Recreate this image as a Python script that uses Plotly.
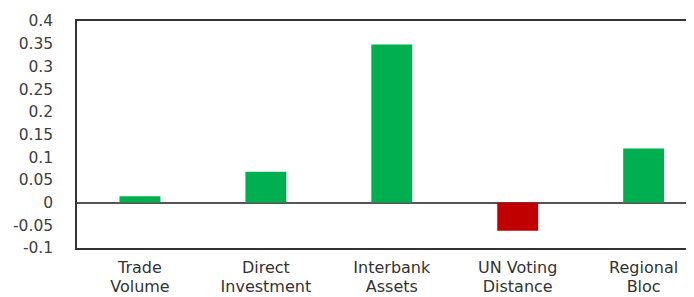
import plotly.graph_objects as go

categories_line1 = ["Trade", "Direct", "Interbank", "UN Voting", "Regional"]
categories_line2 = ["Volume", "Investment", "Assets", "Distance", "Bloc"]
values = [0.014, 0.068, 0.348, -0.062, 0.119]
colors = ["#00B050", "#00B050", "#00B050", "#C00000", "#00B050"]
y_ticks = [0.4, 0.35, 0.3, 0.25, 0.2, 0.15, 0.1, 0.05, 0, -0.05, -0.1]
y_tick_labels = ["0.4", "0.35", "0.3", "0.25", "0.2", "0.15", "0.1", "0.05", "0", "-0.05", "-0.1"]

positions = list(range(len(values)))
xr = [-0.5, 4.4]
font_family = "DejaVu Sans, Liberation Sans, Arial, sans-serif"

fig = go.Figure()
fig.add_trace(go.Bar(
    x=positions, y=values,
    marker=dict(color=colors, line=dict(width=0)),
    width=0.325, hoverinfo="skip",
))
# invisible carrier trace so the second-line category axis is rendered
fig.add_trace(go.Scatter(
    x=positions, y=values, xaxis="x2", yaxis="y",
    mode="markers", marker=dict(opacity=0), hoverinfo="skip",
))

fig.update_layout(
    width=694, height=297,
    margin=dict(l=69, r=8, t=13, b=57),
    paper_bgcolor="white", plot_bgcolor="white",
    showlegend=False,
    font=dict(family=font_family, size=16, color="#404040"),
    xaxis=dict(
        range=xr, automargin=False,
        tickmode="array", tickvals=positions, ticktext=categories_line1,
        showgrid=False, zeroline=False,
        showline=True, linecolor="#333333", linewidth=1.5, mirror=True,
        ticks="", ticklabelstandoff=4,
        tickfont=dict(family=font_family, size=16, color="#333333"),
    ),
    xaxis2=dict(
        range=xr, automargin=False, overlaying="x", anchor="y", side="bottom",
        tickmode="array", tickvals=positions, ticktext=categories_line2,
        showgrid=False, zeroline=False, showline=False,
        ticks="", ticklabelstandoff=27,
        tickfont=dict(family=font_family, size=16, color="#333333"),
    ),
    yaxis=dict(
        range=[-0.1, 0.4], automargin=False,
        tickmode="array", tickvals=y_ticks, ticktext=y_tick_labels,
        showgrid=False,
        zeroline=True, zerolinecolor="#555555", zerolinewidth=1.5,
        showline=True, linecolor="#333333", linewidth=1.5,
        ticks="", ticklabelstandoff=19,
        tickfont=dict(family=font_family, size=15.5, color="#404040"),
    ),
)

fig.write_html("out.html")
